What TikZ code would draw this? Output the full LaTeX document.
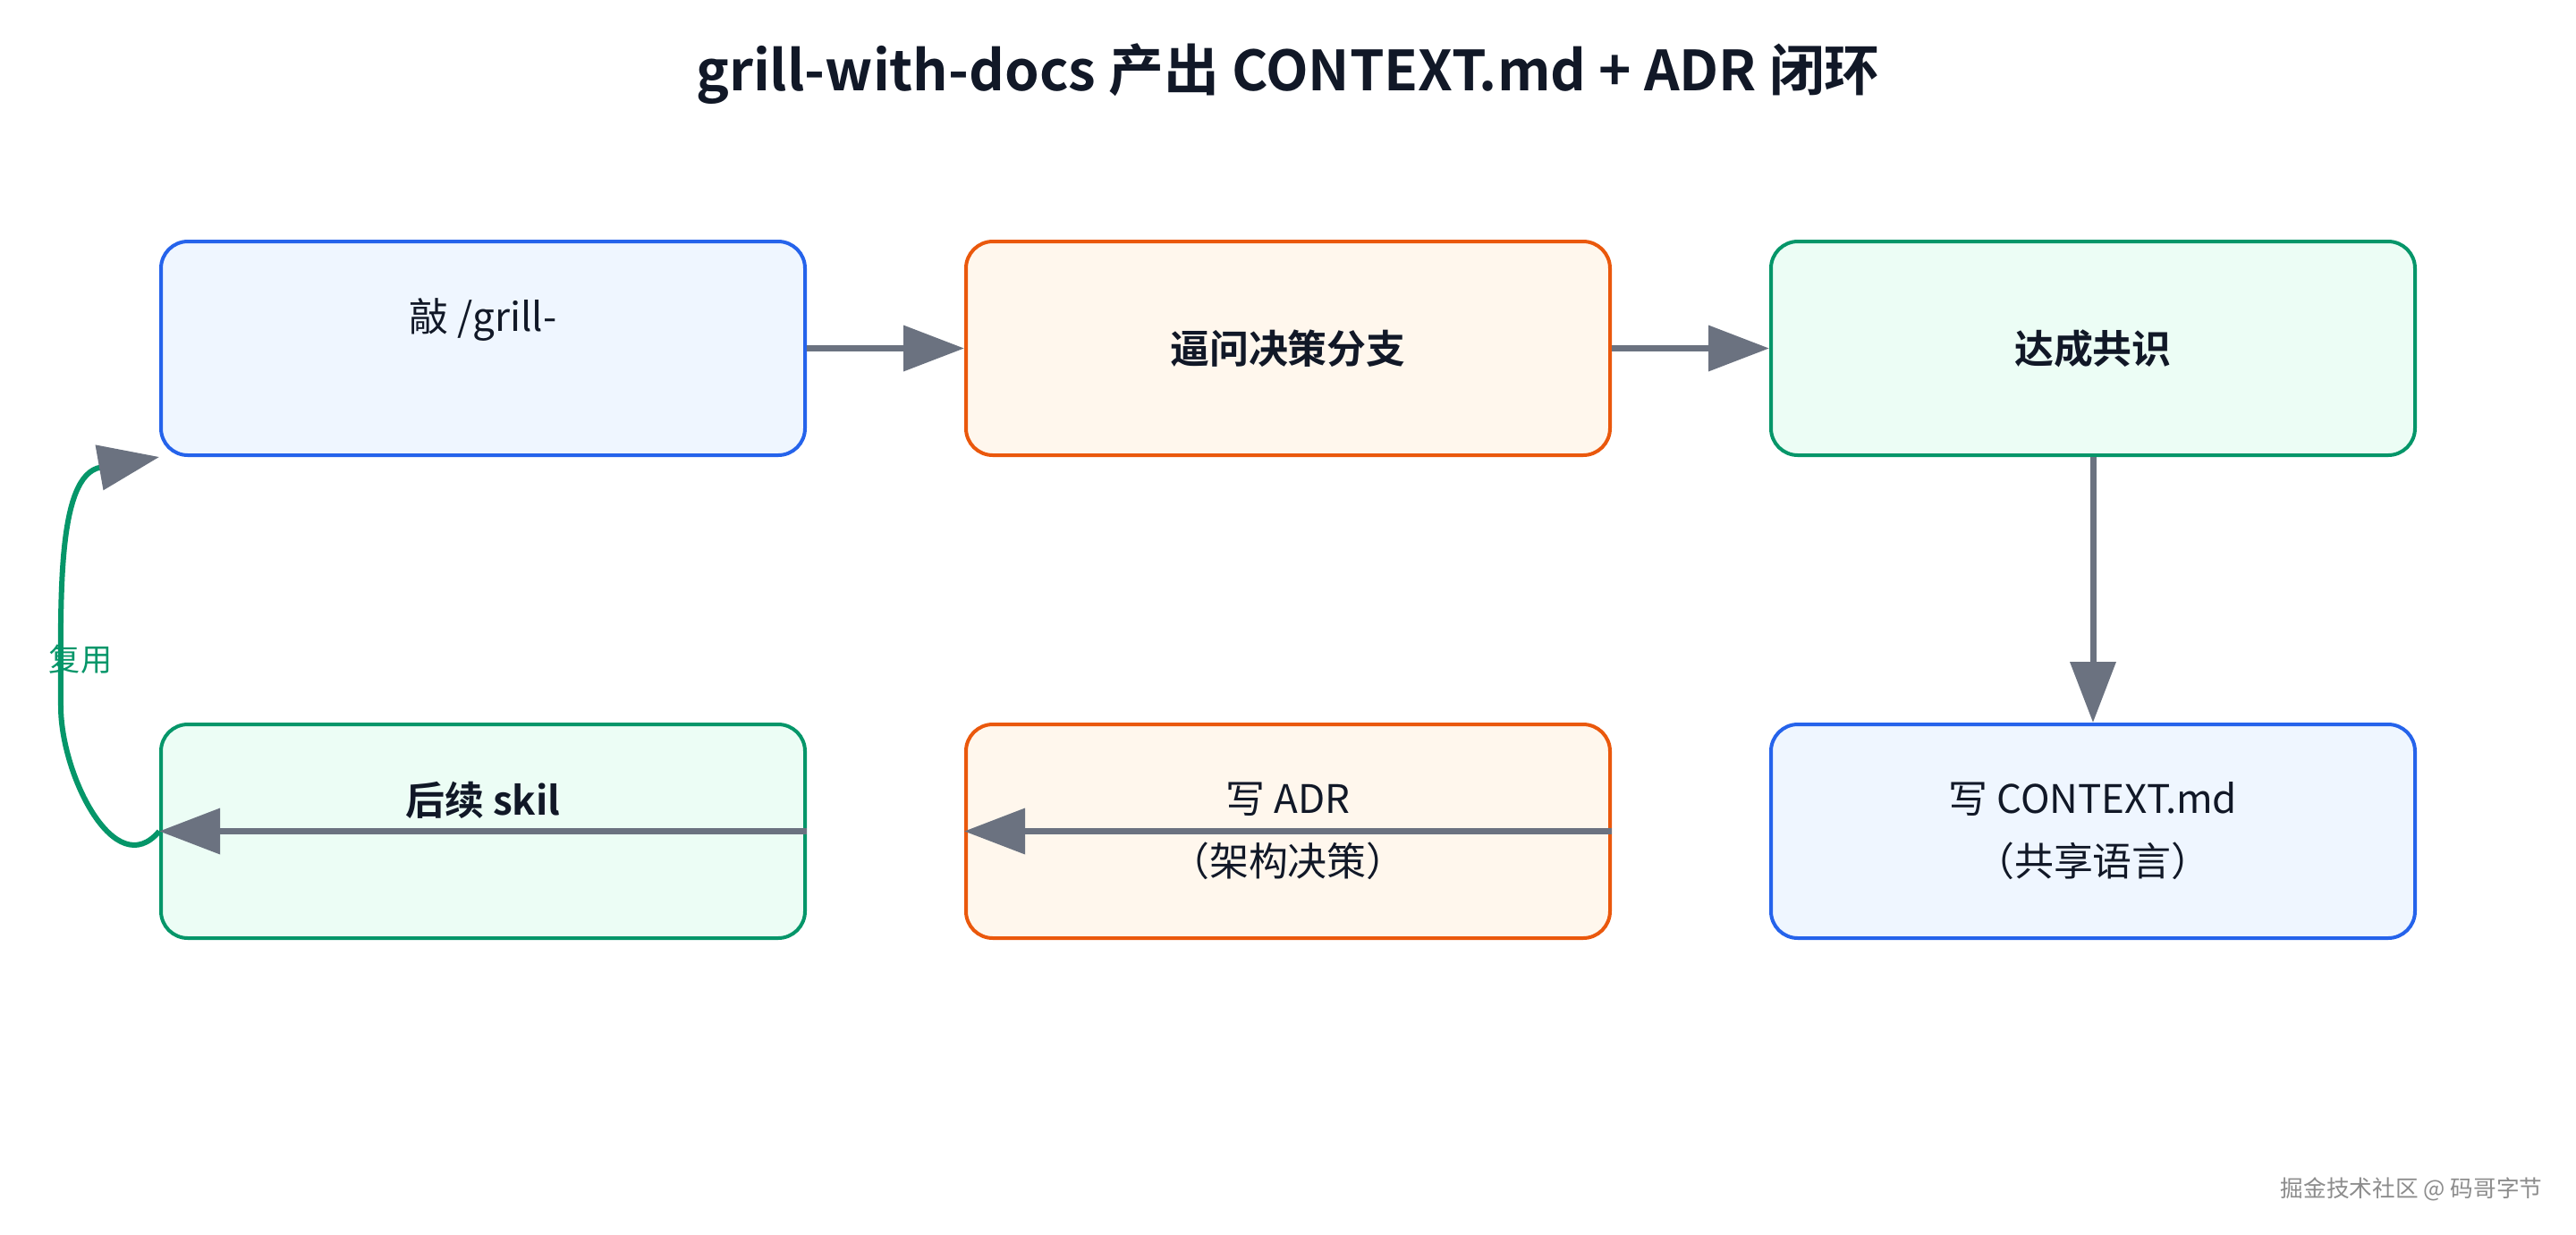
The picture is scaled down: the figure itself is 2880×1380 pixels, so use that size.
\documentclass[tikz,border=0pt]{standalone}
\usepackage{fontspec}
\setmainfont{Noto Sans CJK SC}[BoldFont={Noto Sans CJK SC Bold}]
\usetikzlibrary{arrows.meta, positioning}
\definecolor{bluedraw}{HTML}{2563EB}
\definecolor{bluefill}{HTML}{EFF6FF}
\definecolor{orgdraw}{HTML}{EA580C}
\definecolor{orgfill}{HTML}{FFF7ED}
\definecolor{grndraw}{HTML}{059669}
\definecolor{grnfill}{HTML}{ECFDF5}
\definecolor{edgegray}{HTML}{6B7280}
\definecolor{ink}{HTML}{111827}

\begin{document}
\begin{tikzpicture}[
  x=0.1mm, y=-0.1mm, node distance = 29.7mm and 17.6mm,
  box/.style  = {rectangle, rounded corners=3mm, line width=0.4mm,
                 minimum width=72mm, minimum height=23.9mm, align=center,
                 text=ink, font=\fontsize{12.5}{19.9}\selectfont},
  bluebox/.style = {box, draw=bluedraw, fill=bluefill},
  orgbox/.style  = {box, draw=orgdraw, fill=orgfill},
  grnbox/.style  = {box, draw=grndraw, fill=grnfill},
  flow/.style  = {-{Triangle[length=6.8mm, width=5mm]}, line width=0.7mm, draw=edgegray},
  reuse/.style = {-{Triangle[length=6.8mm, width=5mm, color=edgegray]},
                  line width=0.6mm, draw=grndraw}
]
  \fill[white] (0,0) rectangle (2880,1380);
  \useasboundingbox (0,0) rectangle (2880,1380);

  \node[font=\bfseries\fontsize{17.6}{22}\selectfont, text=ink] (title) at (1440,83)
    {grill-with-docs 产出 CONTEXT.md + ADR 闭环};

  % top row
  \node[bluebox] (grill) at (540,389.5) {敲 /grill-\\\phantom{（）}};
  \node[orgbox, right=of grill] (probe) {\bfseries 逼问决策分支};
  \node[grnbox, right=of probe] (agree) {\bfseries 达成共识};
  % bottom row
  \node[bluebox, below=of agree] (ctx) {写 CONTEXT.md\\（共享语言）};
  \node[orgbox, left=of ctx] (adr) {写 ADR\\（架构决策）};
  \node[grnbox, left=of adr] (skill) {\bfseries 后续 skil\\\phantom{（）}};

  \draw[flow] (grill) -- (probe);
  \draw[flow] (probe) -- (agree);
  \draw[flow] (agree) -- (ctx);
  \draw[flow] (adr.east) -- (adr.west);
  \draw[flow] (skill.east) -- (skill.west);

  \draw[reuse] (skill.west) to[out=230, in=-90, looseness=1.1] (68,790)
               to[out=90, in=190] (grill.south west);
  \node[font=\fontsize{10}{12}\selectfont, text=grndraw] (reuselbl) at (90,737) {复用};

  \node[font=\fontsize{7.3}{9}\selectfont, text=black!45, anchor=east, inner sep=0pt] (mark)
    at (2843,1330) {掘金技术社区 @ 码哥字节};
\end{tikzpicture}
\end{document}
